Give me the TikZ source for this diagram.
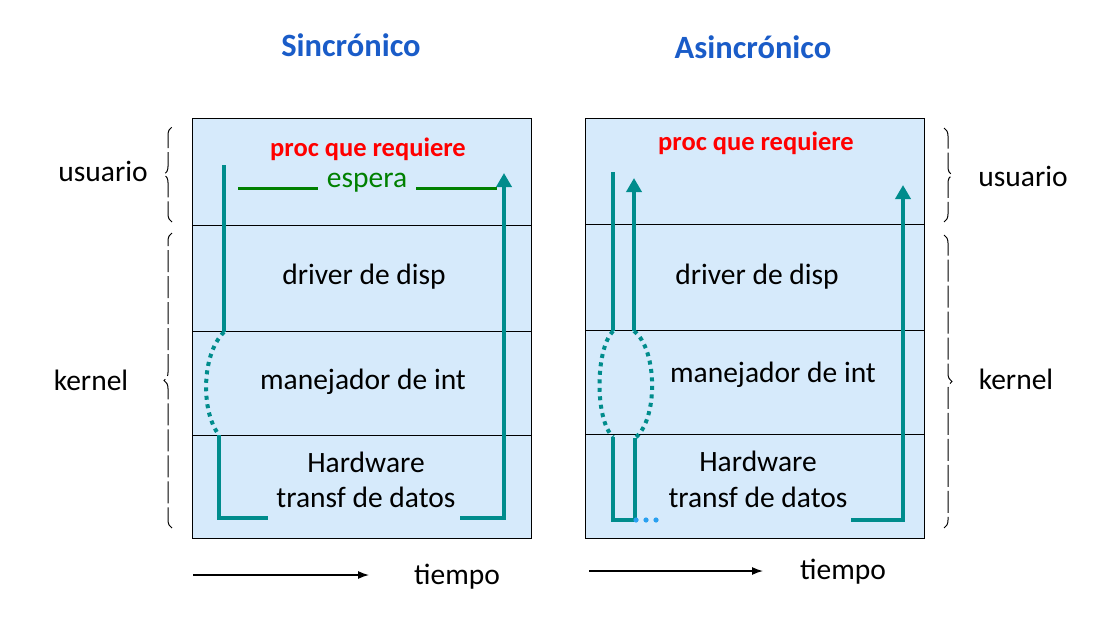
\documentclass[tikz,border=0pt]{standalone}
\usepackage{fontspec}
\setmainfont{Carlito}
\usepackage{tikz}
\usetikzlibrary{arrows.meta,decorations.pathreplacing,calc,positioning}
\definecolor{tealline}{RGB}{0,140,140}
\definecolor{layerfill}{RGB}{214,234,251}
\definecolor{titleblue}{RGB}{26,92,200}
\definecolor{waitgreen}{RGB}{0,128,0}
\definecolor{dotblue}{RGB}{40,160,240}
\tikzset{
  layer/.style={draw=black, fill=layerfill, line width=1pt},
  flow/.style={draw=tealline, line width=4pt},
  flowarrow/.style={flow, -{Triangle[length=14pt,width=15pt]}},
  irq/.style={draw=tealline, line width=4pt, dash pattern=on 4pt off 4.5pt},
  wait/.style={draw=waitgreen, line width=3pt},
  lbl/.style={font=\fontsize{29.5}{32}\selectfont},
  req/.style={font=\bfseries\fontsize{26.5}{29}\selectfont, text=red},
  heading/.style={font=\bfseries\fontsize{32.5}{36}\selectfont, text=titleblue},
  lbrace/.style={decorate, decoration={brace, amplitude=8pt}, line width=1pt, dash pattern=on 22pt off 4pt},
  timearrow/.style={-{Latex[length=11pt,width=8pt]}, line width=1.3pt}
}
\begin{document}
\begin{tikzpicture}[x=1pt,y=-1pt]
\useasboundingbox (0,0) rectangle (1119,629);
% titulos
\node[heading] (tSync) at (351,45) {Sincrónico};
\node[heading] (tAsync) at (753,47) {Asincrónico};

% capas sincronico
\draw[layer] (192,118) rectangle (531,225);
\draw[layer] (192,225) rectangle (531,331);
\draw[layer] (192,331) rectangle (531,435);
\draw[layer] (192,435) rectangle (531,538);
\node[req] (sReq) at (368,149) {proc que requiere};
\node[lbl] (sDrv) at (364,277) {driver de disp};
\node[lbl] (sInt) at (363,382) {manejador de int};
\node[lbl] (sHw) at (366,462) {Hardware};
\node[lbl] (sTr) at (366,497) {transf de datos};

% capas asincronico
\draw[layer] (585,118) rectangle (924,224);
\draw[layer] (585,224) rectangle (924,330);
\draw[layer] (585,330) rectangle (924,434);
\draw[layer] (585,434) rectangle (924,538);
\node[req] (aReq) at (756,143) {proc que requiere};
\node[lbl] (aDrv) at (757,277) {driver de disp};
\node[lbl] (aInt) at (773,375) {manejador de int};
\node[lbl] (aHw) at (758,461) {Hardware};
\node[lbl] (aTr) at (758,497) {transf de datos};

% flujo sincronico
\coordinate (s1) at (224,165);
\coordinate (s2) at (224,332);
\coordinate (s3) at (219,435);
\coordinate (s4) at (219,518);
\coordinate (s5) at (268,518);
\coordinate (s6) at (460,518);
\coordinate (s7) at (504,518);
\coordinate (s8) at (504,173);
\draw[flow] (s1) -- (s2);
\draw[irq] (s2) .. controls (201,355) and (201,412) .. (s3);
\draw[flow] (s3) -- (s4) -- (s5);
\draw[flowarrow] (s6) -- (s7) -- (s8);
\coordinate (g1) at (238,188);
\coordinate (g2) at (318,188);
\coordinate (g3) at (416,188);
\coordinate (g4) at (497,188);
\draw[wait] (g1) -- (g2);
\node[lbl, text=waitgreen] (sWait) at (367,183) {espera};
\draw[wait] (g3) -- (g4);

% flujo asincronico
\coordinate (a1) at (613,172);
\coordinate (a2) at (613,331);
\coordinate (a3) at (634,331);
\coordinate (a4) at (634,178);
\coordinate (a5) at (613,437);
\coordinate (a6) at (613,520);
\coordinate (a7) at (635,520);
\coordinate (a8) at (635,438);
\draw[flow] (a1) -- (a2);
\draw[flowarrow] (a3) -- (a4);
\draw[irq] (a2) .. controls (595,350) and (595,420) .. (a5);
\draw[irq] (a3) .. controls (658,350) and (658,420) .. (a8);
\draw[flow] (a5) -- (a6) -- (a7) -- (a8);
\fill[dotblue] (636,520) circle (2.6) (646,520) circle (2.6) (656,520) circle (2.6);
\coordinate (a9) at (851,520);
\coordinate (a10) at (903,520);
\coordinate (a11) at (903,185);
\draw[flowarrow] (a9) -- (a10) -- (a11);

% llaves
\draw[lbrace] (172,222) -- (172,127);
\draw[lbrace] (172,528) -- (172,233);
\draw[lbrace] (944,128) -- (944,222);
\draw[lbrace] (944,235) -- (944,528);
\node[lbl] (sUser) at (103,171) {usuario};
\node[lbl] (sKern) at (91,380) {kernel};
\node[lbl] (aUser) at (1023,176) {usuario};
\node[lbl] (aKern) at (1016,379) {kernel};

% tiempo
\coordinate (ts1) at (193,575);
\coordinate (ts2) at (369,575);
\coordinate (ta1) at (589,571);
\coordinate (ta2) at (763,571);
\draw[timearrow] (ts1) -- (ts2);
\draw[timearrow] (ta1) -- (ta2);
\node[lbl] (sTime) at (457,577) {tiempo};
\node[lbl] (aTime) at (843,572) {tiempo};
\end{tikzpicture}
\end{document}
